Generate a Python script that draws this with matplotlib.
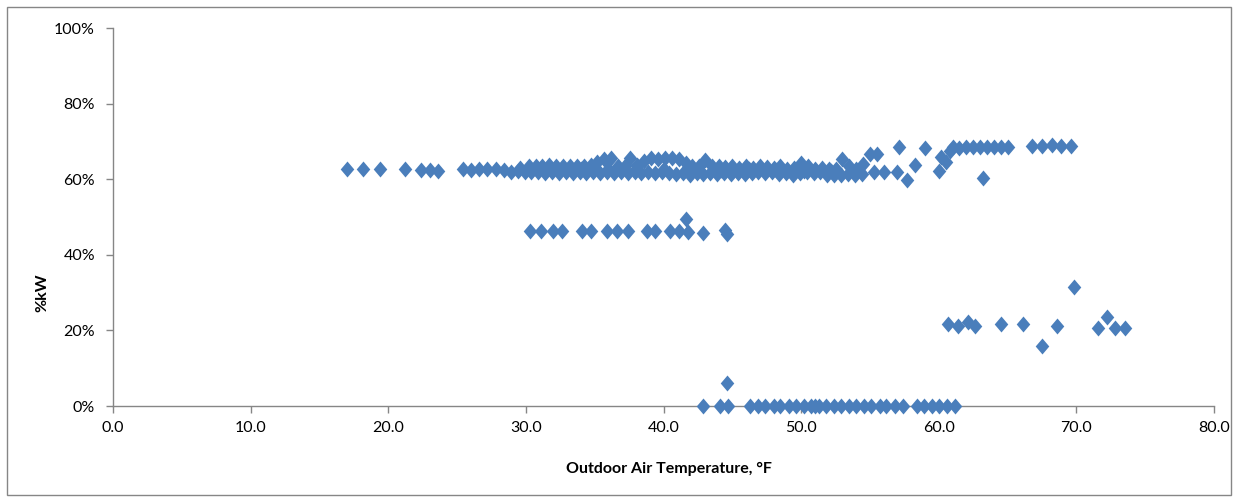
import numpy as np
import matplotlib.pyplot as plt
from matplotlib.patches import Rectangle
from matplotlib.ticker import FuncFormatter

# Точки: температура наружного воздуха (°F) и %kW
# основная полоса ~62%
main_temp = [17.0, 18.2, 19.4, 21.2, 22.4, 23.0, 23.6,
             26.0, 26.6, 27.2, 27.8, 28.4, 28.9, 29.4, 29.9, 30.4, 30.9, 31.4, 31.9,
             32.4, 32.9, 33.4, 33.9, 34.4, 34.9, 35.4, 35.9, 36.4, 36.9, 37.4, 37.9,
             38.4, 38.9, 39.4, 39.9, 40.4, 40.9, 41.4, 41.9, 42.4, 42.9, 43.4, 43.9,
             44.4, 44.9, 45.4, 45.9, 46.4, 46.9, 47.4, 47.9, 48.4, 48.9, 49.4, 49.9,
             50.4, 50.9, 51.4, 51.9, 52.4, 52.9, 53.4, 53.9, 54.4,
             25.4, 29.6, 30.2, 30.7, 31.2, 31.7, 32.2, 32.7, 33.2, 33.7, 34.2, 34.7,
             35.2, 35.7, 36.2, 36.7, 37.2, 37.6, 38.1, 38.6, 39.1, 39.6, 40.1, 40.6,
             41.1, 41.6, 42.1, 42.6, 43.0, 43.5, 44.0, 44.5, 45.0, 45.5, 46.0, 46.5,
             47.0, 47.5, 48.0, 48.5, 49.0, 49.5, 50.0, 50.5, 51.0, 51.5, 52.0, 52.5,
             53.0, 53.5, 54.0, 54.5,
             34.0, 36.0, 38.0, 40.0, 42.0, 44.2, 46.2, 48.2, 50.2, 52.2]
main_kw = [62.8, 62.8, 62.6, 62.6, 62.5, 62.5, 62.3,
           62.4, 62.6, 62.6, 62.6, 62.4, 62.0, 62.2, 62.0, 61.8, 62.0, 61.6, 61.8,
           61.6, 61.8, 61.6, 61.8, 61.6, 61.8, 61.6, 61.8, 61.6, 61.8, 61.6, 61.8,
           61.6, 61.8, 61.6, 61.8, 61.6, 61.4, 61.6, 61.2, 61.6, 61.4, 61.6, 61.4,
           61.6, 61.4, 61.6, 61.4, 61.6, 61.8, 61.6, 61.8, 61.4, 61.6, 61.2, 61.6,
           61.8, 61.6, 61.8, 61.0, 61.2, 61.0, 61.4, 61.0, 61.4,
           62.6, 63.0, 63.4, 63.6, 63.4, 63.8, 63.4, 63.6, 63.4, 63.6, 63.4, 63.8,
           64.6, 65.4, 65.6, 63.6, 63.4, 65.6, 63.8, 64.8, 65.6, 65.4, 65.6, 65.6,
           65.4, 64.4, 63.4, 63.6, 65.0, 63.4, 63.6, 63.2, 63.4, 63.0, 63.4, 63.0,
           63.6, 63.2, 63.0, 63.4, 62.6, 63.0, 64.2, 63.4, 62.8, 63.0, 62.8, 62.6,
           65.4, 63.4, 62.8, 64.0,
           62.6, 62.8, 62.6, 62.8, 62.4, 62.4, 62.6, 62.4, 62.2, 62.2]

# правый край верхней полосы
upper_temp = [55.0, 55.5, 55.3, 56.0, 57.1, 57.0, 57.7, 58.3, 59.0, 60.0, 60.2, 60.5,
              60.8, 61.0, 61.5, 62.0, 62.5, 63.0, 63.5, 64.0, 64.5, 65.0, 63.2,
              66.8, 67.5, 68.2, 68.9, 69.6]
upper_kw = [66.6, 66.8, 62.0, 62.0, 68.4, 61.8, 59.8, 63.8, 68.2, 62.2, 65.8, 64.6,
            67.4, 68.6, 68.2, 68.6, 68.4, 68.6, 68.4, 68.6, 68.6, 68.4, 60.4,
            68.8, 68.8, 69.0, 68.8, 68.8]

# полоса ~46%
mid_temp = [30.3, 31.1, 32.0, 32.6, 34.1, 34.7, 35.9, 36.6, 37.4, 38.8, 39.4, 40.5,
            41.1, 41.6, 41.8, 42.9, 44.5, 44.6]
mid_kw = [46.4, 46.2, 46.2, 46.4, 46.4, 46.4, 46.2, 46.2, 46.2, 46.2, 46.4, 46.2,
          46.2, 49.6, 46.0, 45.8, 46.6, 45.6]

# полоса ~21%
low_temp = [60.7, 61.4, 62.1, 62.6, 64.5, 66.1, 67.5, 68.6, 69.8, 71.6, 72.2, 72.8, 73.5]
low_kw = [21.6, 21.2, 22.2, 21.2, 21.6, 21.6, 16.0, 21.2, 31.4, 20.6, 23.6, 20.6, 20.6]

# нулевая полоса
zero_temp = [42.9, 44.1, 44.7, 44.6, 46.3, 46.9, 47.4, 48.0, 48.5, 49.1, 49.6, 50.2,
             50.7, 51.0, 51.3, 51.8, 52.4, 52.9, 53.5, 54.0, 54.6, 55.1, 55.7, 56.2,
             56.8, 57.4, 58.4, 58.9, 59.5, 60.0, 60.6, 61.2]
zero_kw = [0, 0, 0, 6.0, 0, 0, 0, 0, 0, 0, 0, 0,
           0, 0, 0, 0, 0, 0, 0, 0, 0, 0, 0, 0,
           0, 0, 0, 0, 0, 0, 0, 0]

temp = np.array(main_temp + upper_temp + mid_temp + low_temp + zero_temp)
kw = np.array(main_kw + upper_kw + mid_kw + low_kw + zero_kw)

plt.rcParams['font.family'] = ['Lato', 'DejaVu Sans']

fig = plt.figure(figsize=(12.38, 5.01), dpi=100)
ax = fig.add_axes([0.0913, 0.1896, 0.8893, 0.7545])

# ромб Excel чуть выше, чем шире
diamond = [(0, 1), (0.85, 0), (0, -1), (-0.85, 0), (0, 1)]
ax.plot(temp, kw, linestyle='none', marker=diamond, markersize=11.5,
        color='#4a7ebb', markeredgewidth=0, clip_on=False, zorder=3)

ax.set_xlim(0, 80)
ax.set_ylim(0, 100)
ax.set_xticks(np.arange(0, 81, 10))
ax.set_yticks(np.arange(0, 101, 20))
ax.xaxis.set_major_formatter(FuncFormatter(lambda v, p: f'{v:.1f}'))
ax.yaxis.set_major_formatter(FuncFormatter(lambda v, p: f'{v:.0f}%'))

for s in ['top', 'right']:
    ax.spines[s].set_visible(False)
for s in ['left', 'bottom']:
    ax.spines[s].set_color('#868686')
    ax.spines[s].set_linewidth(1.0)
ax.tick_params(axis='both', colors='#868686', labelcolor='black', labelsize=11.5,
               length=5, width=1.0, direction='out')
ax.tick_params(axis='x', pad=6)
ax.tick_params(axis='y', pad=8)

ax.set_xlabel('Outdoor Air Temperature, °F', fontsize=11.5, fontweight='bold')
ax.set_ylabel('%kW', fontsize=11.5, fontweight='bold')
ax.xaxis.set_label_coords(0.505, -0.148)
ax.yaxis.set_label_coords(-0.058, 0.30)

# рамка вокруг всей диаграммы
fig.patches.append(Rectangle((0.006, 0.012), 0.988, 0.974, transform=fig.transFigure,
                             fill=False, edgecolor='#868686', linewidth=1.0))

fig.savefig('out.png', dpi=100)
